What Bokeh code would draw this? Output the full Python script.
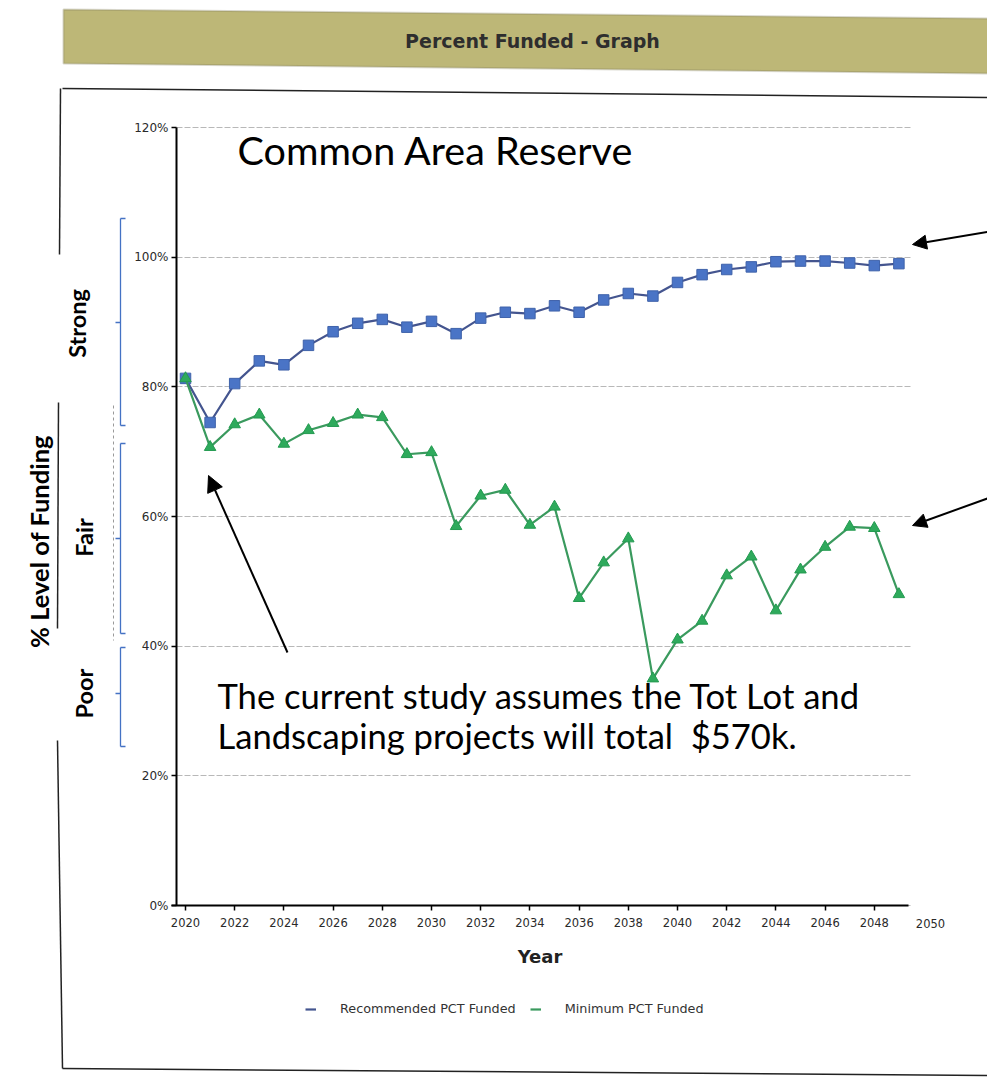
import numpy as np
from bokeh.plotting import figure
from bokeh.models import (Range1d, Label, Arrow, NormalHead, PolyAnnotation, Legend,
                          LegendItem, PrintfTickFormatter, FixedTicker, Grid)
from bokeh.embed import file_html
from bokeh.resources import INLINE

# ---------------- data ----------------
years = list(range(2020, 2050))
recommended = [81.3, 74.5, 80.5, 84.0, 83.4, 86.4, 88.5, 89.8, 90.4, 89.2,
               90.1, 88.2, 90.6, 91.5, 91.3, 92.5, 91.5, 93.4, 94.4, 94.0,
               96.1, 97.3, 98.1, 98.5, 99.3, 99.4, 99.4, 99.1, 98.7, 99.0]
minimum = [81.3, 70.7, 74.2, 75.7, 71.2, 73.3, 74.4, 75.7, 75.3, 69.6,
           69.9, 58.5, 63.2, 64.1, 58.7, 61.5, 47.4, 52.9, 56.6, 35.0,
           41.0, 43.9, 50.9, 53.8, 45.5, 51.8, 55.3, 58.4, 58.2, 48.0]
series_names = ["Recommended PCT Funded", "Minimum PCT Funded"]
x_ticks = list(range(2020, 2050, 2))
y_ticks = [0, 20, 40, 60, 80, 100, 120]
band_labels = ["Strong", "Fair", "Poor"]

# ---------------- page-pixel -> data helpers (layout only) ----------------
W, H = 987, 1080
X0, XPX = 185.0, 24.6            # page x of 2020, px per year
Y0, YPX = 905.0, 778.0 / 120.0   # page y of 0 %, px per %


def dx(px):
    return 2020 + (px - X0) / XPX


def dy(py):
    return (Y0 - py) / YPX


p = figure(width=W, height=H, output_backend="svg", toolbar_location=None,
           x_range=Range1d(dx(0), dx(W)), y_range=Range1d(dy(H), dy(0)),
           min_border=0, outline_line_color=None,
           background_fill_color="white", border_fill_color="white")
p.title.visible = False

# axes placed at fixed data locations inside the frame
p.yaxis.fixed_location = dx(176)
p.xaxis.fixed_location = 0
p.yaxis.bounds = (0, 120)
p.xaxis.bounds = (dx(171), dx(908))
p.xaxis.ticker = FixedTicker(ticks=x_ticks)
p.yaxis.ticker = FixedTicker(ticks=y_ticks)
p.yaxis.formatter = PrintfTickFormatter(format="%d%%")
p.axis.axis_line_color = "black"
p.axis.axis_line_width = 2
p.axis.major_tick_line_color = "black"
p.axis.major_tick_line_width = 1.5
p.axis.major_tick_out = 5
p.axis.major_tick_in = 0
p.axis.minor_tick_line_color = None
p.axis.major_label_text_font = "DejaVu Sans"
p.axis.major_label_text_color = "#2a2a2a"
p.xaxis.major_label_text_font_size = "11.5px"
p.yaxis.major_label_text_font_size = "12px"
p.xaxis.major_label_standoff = 7
p.yaxis.major_label_standoff = 3
p.xaxis.axis_label = "Year"
p.xaxis.axis_label_text_font = "DejaVu Sans"
p.xaxis.axis_label_text_font_style = "bold"
p.xaxis.axis_label_text_font_size = "18px"
p.xaxis.axis_label_text_color = "#222222"
p.xaxis.axis_label_standoff = 16
p.xgrid.visible = False

GRID_COLOR = "#b8b8b8"
if "cross_bounds" in Grid.properties():
    p.ygrid.bounds = (0, 120)
    p.ygrid.cross_bounds = (dx(176), dx(912))
    p.ygrid.grid_line_color = GRID_COLOR
    p.ygrid.grid_line_dash = "6 2"
else:
    p.ygrid.visible = False
    p.segment(x0=[dx(176)] * len(y_ticks[1:]), x1=[dx(912)] * len(y_ticks[1:]),
              y0=y_ticks[1:], y1=y_ticks[1:], line_color=GRID_COLOR,
              line_dash="6 2", line_width=1, level="underlay")

# series
BLUE_LINE, BLUE = "#44558f", "#4a74c6"
GREEN_LINE, GREEN = "#3a9a5e", "#2eaa5c"
r1 = p.line(years, recommended, line_color=BLUE_LINE, line_width=2.2)
p.scatter(years, recommended, marker="square", size=10.5, fill_color=BLUE,
          line_color="#3f62aa", line_width=1)
r2 = p.line(years, minimum, line_color=GREEN_LINE, line_width=2.2)
p.scatter(years, minimum, marker="triangle", size=11.5, fill_color=GREEN,
          line_color="#239a50", line_width=1)

legend = Legend(items=[LegendItem(label=series_names[0], renderers=[r1]),
                       LegendItem(label=series_names[1], renderers=[r2])],
                orientation="horizontal", location=(305, 64),
                label_text_font="DejaVu Sans", label_text_font_size="12.8px",
                label_text_color="#333333", glyph_width=11, glyph_height=14,
                label_standoff=24, spacing=14, padding=0, margin=0,
                border_line_color=None, background_fill_alpha=0)
p.add_layout(legend)

# 2050 tick label (beyond axis end)
p.add_layout(Label(x=dx(930), y=dy(918), text="2050", text_align="center",
                   text_baseline="top", text_font="DejaVu Sans",
                   text_font_size="11.5px", text_color="#2a2a2a"))

# ---------------- title bar ----------------
p.add_layout(PolyAnnotation(xs=[dx(63), dx(995), dx(995), dx(63)],
                            ys=[dy(9), dy(18), dy(73), dy(63)],
                            fill_color="#bdb777", fill_alpha=1,
                            line_color="#7d7a58", line_width=2))
p.add_layout(Label(x=dx(532), y=dy(40), text="Percent Funded - Graph",
                   text_align="center", text_baseline="middle",
                   text_font="DejaVu Sans", text_font_style="bold",
                   text_font_size="19px", text_color="#2e2e2e"))


# ---------------- outer box ----------------
def seg(x1, y1, x2, y2, color="#222222", width=1.5, dash="solid"):
    p.add_layout(Arrow(x_start=dx(x1), y_start=dy(y1), x_end=dx(x2), y_end=dy(y2),
                       start=None, end=None, line_color=color, line_width=width,
                       line_dash=dash))


seg(62, 88, 995, 97)
seg(62, 1068, 995, 1075)
seg(60, 88, 59, 254)
seg(58, 402, 57, 628)
seg(57, 740, 62, 1068)
seg(113, 405, 113, 640, color="#9a9a9a", width=1, dash="3 3")

# ---------------- level brackets ----------------
BR = "#4472c4"
for top, bot, mid in [(218, 425, 322), (443, 633, 538), (647, 746, 693)]:
    seg(120, top, 120, bot, color=BR, width=1.3)
    seg(120, top, 125, top, color=BR, width=1.3)
    seg(120, bot, 125, bot, color=BR, width=1.3)
    seg(115, mid, 120, mid, color=BR, width=1.3)

for lbl, (cx, cy) in zip(band_labels, [(76, 323), (83, 537), (83, 693)]):
    p.add_layout(Label(x=dx(cx), y=dy(cy), text=lbl, angle=np.pi / 2,
                       text_align="center", text_baseline="middle",
                       text_font="Lato", text_font_style="bold",
                       text_font_size="23.5px", text_color="black"))
p.add_layout(Label(x=dx(38), y=dy(541), text="% Level of Funding", angle=np.pi / 2,
                   text_align="center", text_baseline="middle",
                   text_font="Lato", text_font_style="bold",
                   text_font_size="25.5px", text_color="black"))

# ---------------- overlay texts ----------------
p.add_layout(Label(x=dx(237), y=dy(149), text="Common Area Reserve",
                   text_align="left", text_baseline="alphabetic",
                   text_font="Lato", text_font_size="39.5px", text_color="black"))
p.add_layout(Label(x=dx(217), y=dy(695), text="The current study assumes the Tot Lot and",
                   text_align="left", text_baseline="alphabetic",
                   text_font="Lato", text_font_size="34.6px", text_color="black"))
p.add_layout(Label(x=dx(217), y=dy(735),
                   text="Landscaping projects will total \u00a0$570k.",
                   text_align="left", text_baseline="alphabetic",
                   text_font="Lato", text_font_size="34.6px", text_color="black"))


# ---------------- arrows ----------------
def arrow(x1, y1, x2, y2, size=14):
    p.add_layout(Arrow(x_start=dx(x1), y_start=dy(y1), x_end=dx(x2), y_end=dy(y2),
                       line_color="black", line_width=2,
                       end=NormalHead(size=size, fill_color="black", line_color="black")))


arrow(995, 230, 912, 244)
arrow(995, 495, 912, 525)
arrow(287, 652, 208, 475, size=16)

open("out.html", "w").write(file_html(p, INLINE))
